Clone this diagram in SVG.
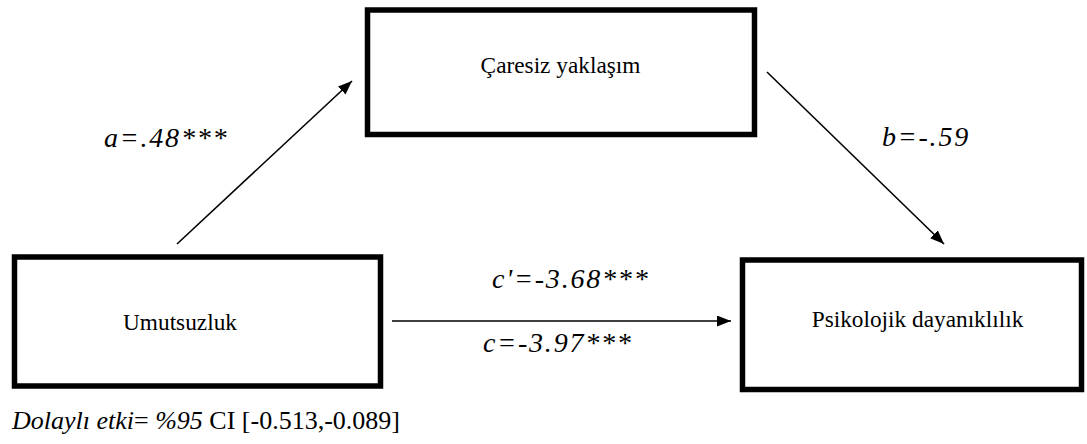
<svg xmlns="http://www.w3.org/2000/svg" width="1087" height="444" viewBox="0 0 1087 444">
<style>
.box{fill:#fff;stroke:#000;stroke-width:5.5}
.lbl{font-family:"Liberation Serif","DejaVu Serif",serif;font-size:23.3px;fill:#000}
.it{font-family:"Liberation Serif","DejaVu Serif",serif;font-size:28px;font-style:italic;letter-spacing:1.8px;fill:#000}
.note{font-family:"Liberation Serif","DejaVu Serif",serif;font-size:26px;fill:#000}
.con{stroke:#000;stroke-width:1.6;fill:none}
</style>
<defs>
<marker id="ah" viewBox="0 0 10 10" refX="10" refY="5" markerWidth="14" markerHeight="11" markerUnits="userSpaceOnUse" orient="auto" preserveAspectRatio="none">
<path d="M0,0 L10,5 L0,10 Z" fill="#000"/>
</marker>
</defs>
<rect width="1087" height="444" fill="#fff"/>
<g id="connectors">
<line class="con" x1="177" y1="244" x2="352" y2="81" marker-end="url(#ah)"/>
<line class="con" x1="767" y1="72" x2="944" y2="244" marker-end="url(#ah)"/>
<line class="con" x1="392" y1="321" x2="731" y2="321" marker-end="url(#ah)"/>
</g>
<g id="node-caresiz">
<rect class="box" x="367.5" y="10" width="387" height="124.5"/>
<text class="lbl" x="560.5" y="73" text-anchor="middle">Çaresiz yaklaşım</text>
</g>
<g id="node-umutsuzluk">
<rect class="box" x="14.5" y="257" width="366" height="129"/>
<text class="lbl" x="180" y="330" text-anchor="middle">Umutsuzluk</text>
</g>
<g id="node-psikolojik">
<rect class="box" x="742.5" y="260" width="339" height="129.5"/>
<text class="lbl" x="917.5" y="327" text-anchor="middle">Psikolojik dayanıklılık</text>
</g>
<g id="labels">
<text class="it" x="104" y="147">a=.48***</text>
<text class="it" x="882" y="146">b=-.59</text>
<text class="it" x="492" y="288">c'=-3.68***</text>
<text class="it" x="483" y="352">c=-3.97***</text>
<text class="note" x="12" y="429"><tspan font-style="italic">Dolaylı etki</tspan>= <tspan font-style="italic">%95</tspan> CI [-0.513,-0.089]</text>
</g>
</svg>
